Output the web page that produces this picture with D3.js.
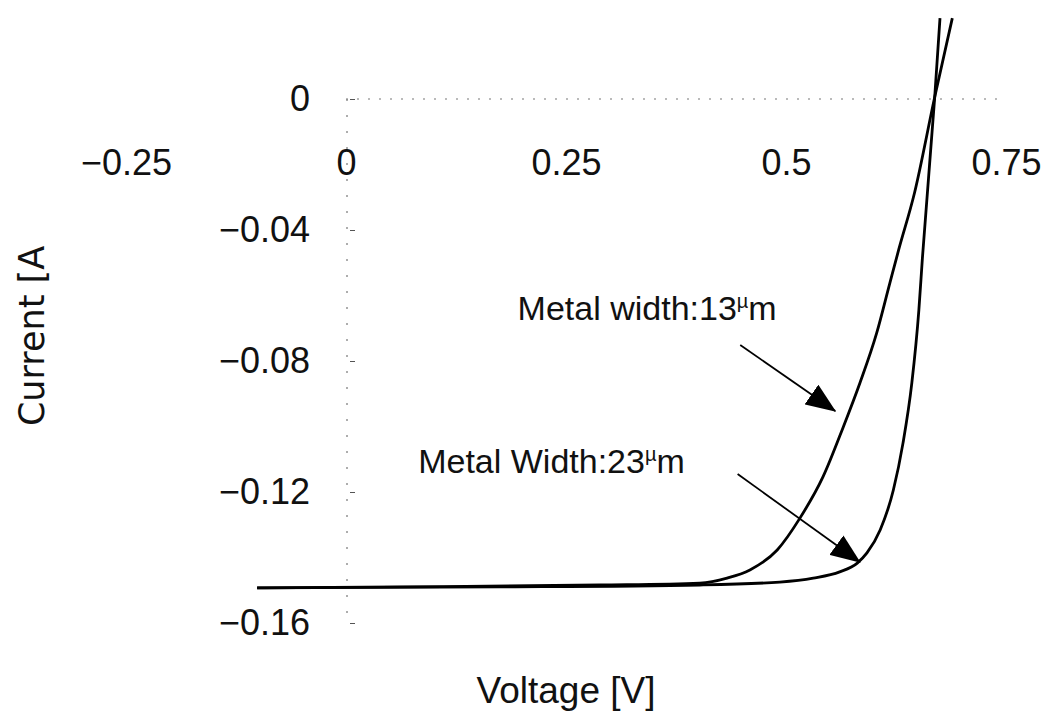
<!DOCTYPE html>
<html>
<head>
<meta charset="utf-8">
<script src="https://cdn.jsdelivr.net/npm/d3@7"></script>
<style>
  body { margin: 0; background: #fff; }
  text { font-family: Arial, "Liberation Sans", sans-serif; fill: #111; }
</style>
</head>
<body>
<div id="chart"></div>
<script>
// Tick values on both axes.
var X_TICKS = [-0.25, 0, 0.25, 0.5, 0.75];
var Y_TICKS = [0, -0.04, -0.08, -0.12, -0.16];

// Metal width 13um (voltage in V, current in A).
var v13 = [-0.101, 0.061, 0.289, 0.402, 0.433, 0.459, 0.490, 0.516, 0.542, 0.565,
           0.584, 0.603, 0.618, 0.628, 0.646, 0.669, 0.689];
var i13 = [-0.1493, -0.1490, -0.1484, -0.1478, -0.1463, -0.1438, -0.1377, -0.1279, -0.1154, -0.1002,
           -0.0867, -0.0715, -0.0562, -0.0461, -0.0287, 0.0006, 0.0247];

// Metal width 23um.
var v23 = [-0.101, 0.175, 0.402, 0.493, 0.531, 0.561, 0.581, 0.592, 0.607, 0.622,
           0.633, 0.643, 0.651, 0.655, 0.669, 0.675];
var i23 = [-0.1493, -0.1490, -0.1484, -0.1475, -0.1463, -0.1444, -0.1417, -0.1386, -0.1316, -0.1194,
           -0.1050, -0.0867, -0.0644, -0.0486, 0.0006, 0.0247];

// Annotations, in data units.
var noteText = ['Metal width:13', 'Metal Width:23'];
var noteAt = [[0.195, -0.0675], [0.082, -0.1142]];
var arrowFrom = [[0.448, -0.0751], [0.445, -0.1145]];
var arrowTo = [[0.556, -0.0953], [0.584, -0.1414]];

var WIDTH = 1050;
var HEIGHT = 719;

function main() {
  var svg = d3.select('#chart').append('svg')
    .attr('width', WIDTH)
    .attr('height', HEIGHT);

  var x = d3.scaleLinear().domain([-0.25, 0.75]).range([126, 1006]);
  var y = d3.scaleLinear().domain([0, -0.16]).range([99, 623]);
  var fmt = d3.format('~g');

  // Faint dotted zero line and y axis line, like the scan.
  svg.append('line')
    .attr('x1', x(0)).attr('x2', x(0.75) - 8)
    .attr('y1', y(0)).attr('y2', y(0))
    .attr('stroke', '#777').attr('stroke-width', 1.2)
    .attr('stroke-dasharray', '2,9');
  svg.append('line')
    .attr('x1', x(0) + 1).attr('x2', x(0) + 1)
    .attr('y1', y(0)).attr('y2', y(-0.16))
    .attr('stroke', '#777').attr('stroke-width', 1.2)
    .attr('stroke-dasharray', '2,14');

  var xAxis = d3.axisBottom(x).tickValues(X_TICKS).tickFormat(fmt)
    .tickSizeInner(0).tickSizeOuter(0).tickPadding(50);
  var gx = svg.append('g')
    .attr('transform', 'translate(0,' + y(0) + ')')
    .call(xAxis);
  gx.select('.domain').remove();
  gx.selectAll('text').attr('font-size', 36).attr('font-family', 'Arial, "Liberation Sans", sans-serif').attr('fill', '#111');

  var yAxis = d3.axisLeft(y).tickValues(Y_TICKS).tickFormat(fmt)
    .tickSizeInner(-5).tickSizeOuter(0).tickPadding(40);
  var gy = svg.append('g')
    .attr('transform', 'translate(' + (x(0) + 4) + ',0)')
    .call(yAxis);
  gy.select('.domain').remove();
  gy.selectAll('.tick line').attr('stroke', '#555');
  gy.selectAll('text').attr('font-size', 36).attr('font-family', 'Arial, "Liberation Sans", sans-serif').attr('fill', '#111');

  // Axis titles.
  svg.append('text')
    .attr('x', (x(-0.25) + x(0.75)) / 2)
    .attr('y', 703)
    .attr('text-anchor', 'middle')
    .attr('font-size', 37)
    .text('Voltage [V]');
  svg.append('text')
    .attr('transform', 'translate(44,336) rotate(-90)')
    .attr('text-anchor', 'middle')
    .attr('font-size', 35)
    .style('font-family', '"DejaVu Sans", sans-serif')
    .text('Current [A');

  // Curves.
  var line = d3.line()
    .x(function(d) { return x(d[0]); })
    .y(function(d) { return y(d[1]); })
    .curve(d3.curveMonotoneX);
  var series = [d3.zip(v13, i13), d3.zip(v23, i23)];
  svg.selectAll('.curve')
    .data(series)
  .enter().append('path')
    .attr('class', 'curve')
    .attr('d', line)
    .attr('fill', 'none')
    .attr('stroke', '#000')
    .attr('stroke-width', 2.8);

  // Arrow heads.
  svg.append('defs').append('marker')
    .attr('id', 'head')
    .attr('markerUnits', 'userSpaceOnUse')
    .attr('viewBox', '0 -12 30 24')
    .attr('refX', 29).attr('refY', 0)
    .attr('markerWidth', 30).attr('markerHeight', 24)
    .attr('orient', 'auto')
    .append('path')
    .attr('d', 'M0,-12L30,0L0,12Z')
    .attr('fill', '#000');

  svg.selectAll('.arrow')
    .data(d3.range(noteText.length))
  .enter().append('line')
    .attr('class', 'arrow')
    .attr('x1', function(i) { return x(arrowFrom[i][0]); })
    .attr('y1', function(i) { return y(arrowFrom[i][1]); })
    .attr('x2', function(i) { return x(arrowTo[i][0]); })
    .attr('y2', function(i) { return y(arrowTo[i][1]); })
    .attr('stroke', '#000')
    .attr('stroke-width', 1.8)
    .attr('marker-end', 'url(#head)');

  var notes = svg.selectAll('.note')
    .data(d3.range(noteText.length))
  .enter().append('text')
    .attr('class', 'note')
    .attr('x', function(i) { return x(noteAt[i][0]); })
    .attr('y', function(i) { return y(noteAt[i][1]); })
    .attr('font-size', 34);
  notes.append('tspan').text(function(i) { return noteText[i]; });
  notes.append('tspan').attr('font-size', 20).attr('dy', -12).text('\u00b5');
  notes.append('tspan').attr('dy', 12).text('m');
}

main();
</script>
</body>
</html>
